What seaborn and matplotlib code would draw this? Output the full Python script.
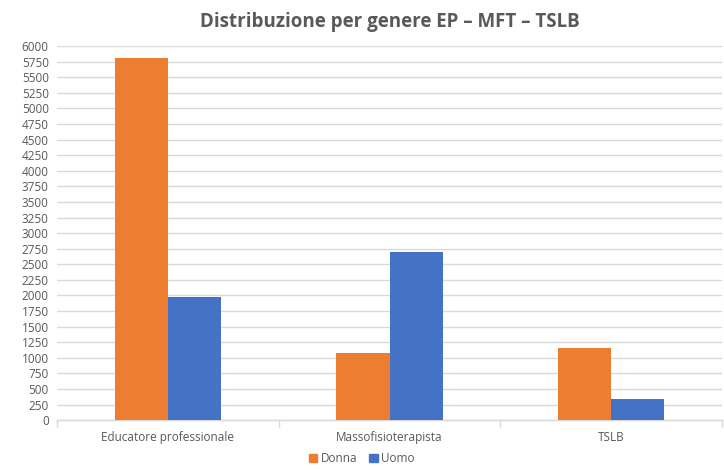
import pandas as pd
import seaborn as sns
import matplotlib.pyplot as plt

categorie = ['Educatore professionale', 'Massofisioterapista', 'TSLB']
donna = [5810, 1070, 1160]
uomo = [1980, 2700, 340]
generi = ['Donna', 'Uomo']
colori = ['#ED7D31', '#4472C4']

df = pd.DataFrame({
    'Categoria': categorie * 2,
    'Genere': ['Donna'] * 3 + ['Uomo'] * 3,
    'Valore': donna + uomo,
})

sns.set_style('white')
plt.rcParams['font.family'] = ['Open Sans', 'DejaVu Sans']

fig = plt.figure(figsize=(7.24, 4.70), dpi=100)
ax = fig.add_axes([0.079, 0.106, 0.918, 0.796])

sns.barplot(data=df, x='Categoria', y='Valore', hue='Genere', hue_order=generi,
            palette=colori, saturation=1, width=0.48, linewidth=0,
            ax=ax, legend=False, zorder=3)

ax.set_ylim(0, 6000)
ax.set_xlim(-0.5, 2.5)
ax.set_yticks(range(0, 6001, 250))
ax.yaxis.grid(True, color='#D9D9D9', linewidth=1, zorder=0)
ax.set_axisbelow(True)
for s in ['top', 'right', 'left']:
    ax.spines[s].set_visible(False)
ax.spines['bottom'].set_color('#D9D9D9')
ax.spines['bottom'].set_linewidth(1)
ax.tick_params(axis='y', length=0, labelsize=8.5, labelcolor='#595959', pad=6)
ax.tick_params(axis='x', length=0, labelsize=8.5, labelcolor='#595959', pad=8)
ax.set_xticks([-0.5, 0.5, 1.5, 2.5], minor=True)
ax.tick_params(axis='x', which='minor', bottom=True, length=5, color='#D9D9D9', width=1)
ax.set_xlabel('')
ax.set_ylabel('')

ax.set_title('Distribuzione per genere EP – MFT – TSLB', fontsize=13.5,
             fontweight='bold', color='#595959', pad=14)

handles = [plt.Rectangle((0, 0), 1, 1, color=c) for c in colori]
fig.legend(handles, generi, loc='lower center', bbox_to_anchor=(0.5, -0.012),
           ncol=2, frameon=False, fontsize=8.5, labelcolor='#595959',
           handlelength=0.7, handleheight=0.7, handletextpad=0.3, columnspacing=1.0)

fig.savefig('out.png', dpi=100)
